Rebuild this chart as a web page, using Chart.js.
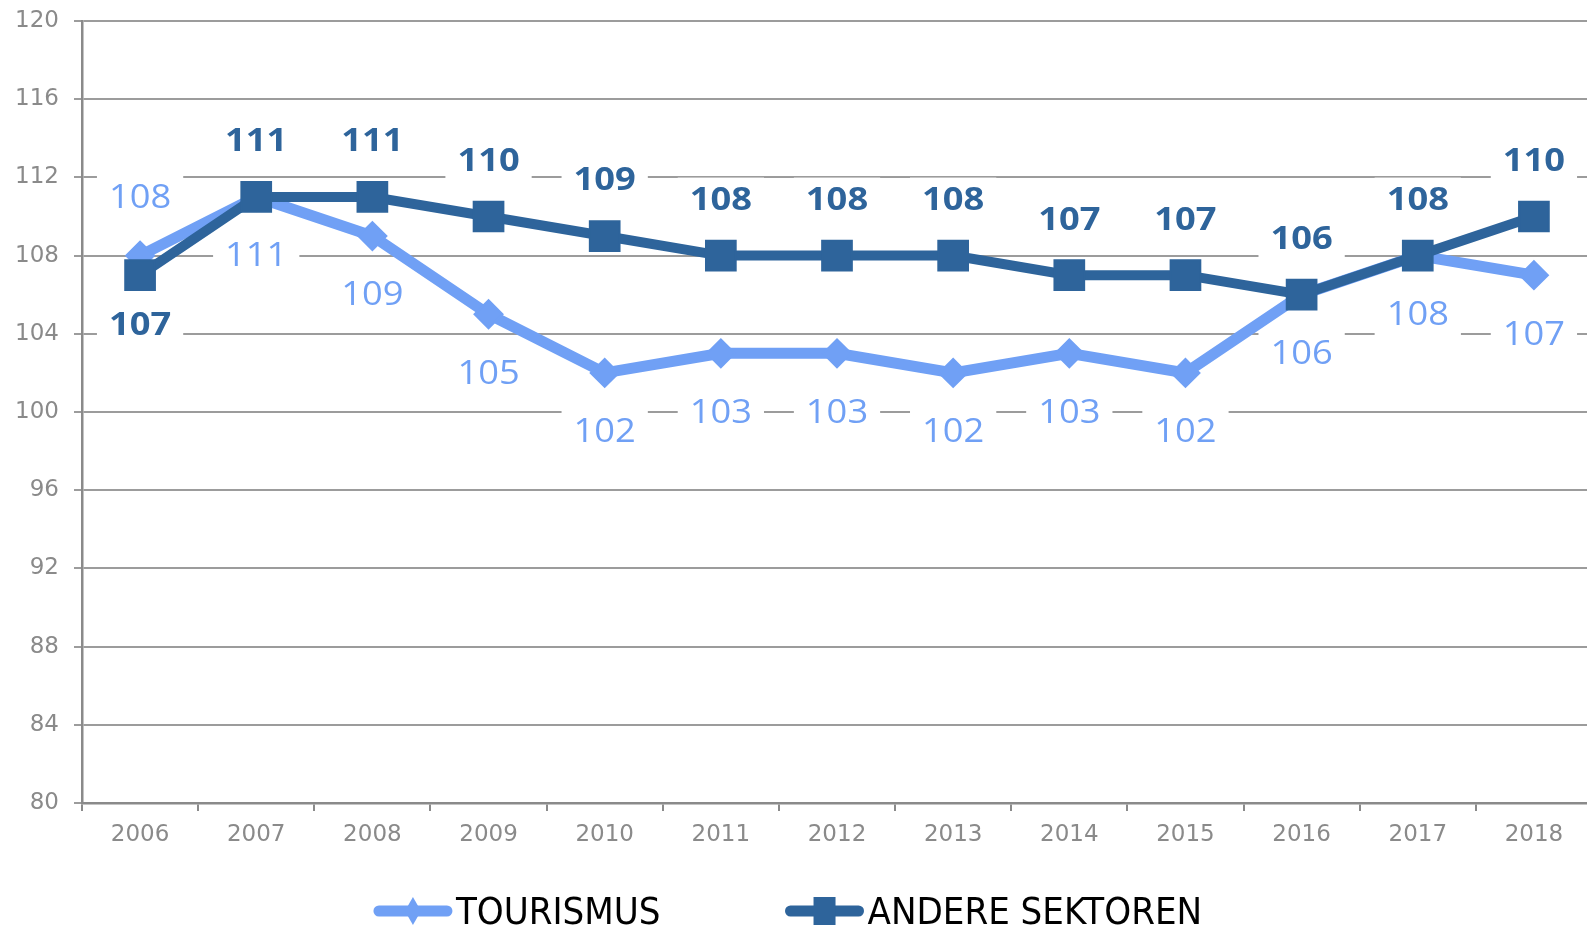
<!DOCTYPE html>
<html>
<head>
<meta charset="utf-8">
<title>Tourismus vs. andere Sektoren</title>
<script src="https://cdn.jsdelivr.net/npm/chart.js@4.4.1/dist/chart.umd.min.js"></script>
<style>
  html, body { margin: 0; padding: 0; background: #fff; }
  #wrap { width: 1587px; height: 928px; position: relative; }
</style>
</head>
<body>
<div id="wrap"><canvas id="chart"></canvas></div>
<script>
// data
const years = ['2006', '2007', '2008', '2009', '2010', '2011', '2012', '2013', '2014', '2015', '2016', '2017', '2018'];
const tourismus = [108, 111, 109, 105, 102, 103, 103, 102, 103, 102, 106, 108, 107];
const andereSektoren = [107, 111, 111, 110, 109, 108, 108, 108, 107, 107, 106, 108, 110];
const seriesNames = ['TOURISMUS', 'ANDERE SEKTOREN'];
const yMin = 80, yMax = 120, yStep = 4;

const lightBlue = '#70A0F5';
const darkBlue = '#2E649B';
const gridGray = '#9c9c9c';
const axisGray = '#8a8a8a';
const tickFont = { family: 'DejaVu Sans', size: 23 };

// the original plot is cut off a few px past the right edge
const cutOff = {
    id: 'cutOff',
    afterLayout(chart) {
        const x = chart.scales.x;
        const right = chart.width + 5;
        x.right = right;
        x.width = right - x.left;
        chart.chartArea.right = right;
        chart.chartArea.width = right - chart.chartArea.left;
        x.configure();
    }
};

// where each value label goes (white box behind it, like the original)
function labelSpots(chart) {
    const tMeta = chart.getDatasetMeta(0);
    const aMeta = chart.getDatasetMeta(1);
    let spots = [];
    years.forEach((y, i) => {
        const tp = tMeta.data[i], ap = aMeta.data[i];
        const tourAbove = tourismus[i] > andereSektoren[i];
        spots.push({ x: tp.x, y: tourAbove ? tp.y - 58 : tp.y + 59, text: String(tourismus[i]), color: lightBlue, bold: false });
        spots.push({ x: ap.x, y: tourAbove ? ap.y + 49 : ap.y - 56, text: String(andereSektoren[i]), color: darkBlue, bold: true });
    });
    return spots;
}

function labelFont(bold) {
    return (bold ? '700 ' : '500 ') + '33px "Open Sans"';
}
const stretch = 1.1; // original labels are a bit wide

const valueLabels = {
    id: 'valueLabels',
    beforeDatasetsDraw(chart) {
        const ctx = chart.ctx;
        ctx.save();
        // white boxes behind labels
        ctx.fillStyle = '#ffffff';
        labelSpots(chart).forEach(s => {
            ctx.font = labelFont(s.bold);
            const w = ctx.measureText(s.text).width * stretch;
            ctx.fillRect(s.x - w / 2 - 12, s.y - 22, w + 24, 44);
        });
        ctx.restore();
    },
    afterDatasetsDraw(chart) {
        const ctx = chart.ctx;
        labelSpots(chart).forEach(s => {
            ctx.save();
            ctx.translate(s.x, s.y + 1);
            ctx.scale(stretch, 1);
            ctx.textAlign = 'center';
            ctx.textBaseline = 'middle';
            ctx.font = labelFont(s.bold);
            ctx.fillStyle = s.color;
            ctx.fillText(s.text, 0, 0);
            ctx.restore();
        });
    }
};

// legend at the bottom: thick line with marker, then the name
const bottomLegend = {
    id: 'bottomLegend',
    afterDraw(chart) {
        const ctx = chart.ctx;
        ctx.save();
        ctx.font = '38px "Liberation Sans Narrow", "DejaVu Sans Condensed", sans-serif';
        const lineLen = 78, gapText = 4, gapItems = 125;
        const widths = seriesNames.map(n => lineLen + gapText + ctx.measureText(n).width);
        const total = widths[0] + gapItems + widths[1];
        let x = 788 - total / 2;
        const ly = 911;
        seriesNames.forEach((name, i) => {
            const col = i === 0 ? lightBlue : darkBlue;
            ctx.strokeStyle = col;
            ctx.lineWidth = 11;
            ctx.lineCap = 'round';
            ctx.beginPath();
            ctx.moveTo(x + 5, ly);
            ctx.lineTo(x + lineLen - 5, ly);
            ctx.stroke();
            ctx.fillStyle = col;
            const cx = x + lineLen / 2;
            if (i === 0) {
                ctx.beginPath();
                ctx.moveTo(cx - 8, ly);
                ctx.lineTo(cx, ly - 14);
                ctx.lineTo(cx + 8, ly);
                ctx.lineTo(cx, ly + 14);
                ctx.closePath();
                ctx.fill();
            } else {
                ctx.fillRect(cx - 11, ly - 14, 22, 28);
            }
            ctx.fillStyle = '#000000';
            ctx.textAlign = 'left';
            ctx.textBaseline = 'alphabetic';
            ctx.fillText(name, x + lineLen + gapText, 924);
            x += widths[i] + gapItems;
        });
        ctx.restore();
    }
};

const ctx = document.getElementById('chart');
new Chart(ctx, {
    type: 'line',
    data: {
        labels: years,
        datasets: [{
            label: seriesNames[0],
            data: tourismus,
            borderColor: lightBlue,
            backgroundColor: lightBlue,
            borderWidth: 11,
            pointStyle: 'rectRot',
            pointRadius: 14,
            pointBorderWidth: 2,
            pointBackgroundColor: lightBlue,
            pointBorderColor: lightBlue,
            tension: 0,
            order: 1
        }, {
            label: seriesNames[1],
            data: andereSektoren,
            borderColor: darkBlue,
            backgroundColor: darkBlue,
            borderWidth: 10,
            pointStyle: 'rect',
            pointRadius: 21,
            pointBorderWidth: 2,
            pointBackgroundColor: darkBlue,
            pointBorderColor: darkBlue,
            tension: 0,
            order: 0
        }]
    },
    options: {
        responsive: true,
        maintainAspectRatio: false,
        animation: false,
        devicePixelRatio: 1,
        layout: { autoPadding: false, padding: { top: 21, right: 0, left: 0, bottom: 0 } },
        plugins: {
            legend: { display: false },
            tooltip: { enabled: false }
        },
        scales: {
            x: {
                offset: true,
                grid: {
                    offset: true,
                    drawOnChartArea: false,
                    drawTicks: true,
                    tickLength: 8,
                    color: axisGray,
                    lineWidth: 2
                },
                border: { color: axisGray, width: 2.5 },
                ticks: { color: '#8a8a8a', font: tickFont, padding: 10, maxRotation: 0, autoSkip: false },
                afterFit(scale) {
                    scale.height = 125;
                    scale.paddingLeft = 0;
                    scale.paddingRight = 0;
                }
            },
            y: {
                min: yMin,
                max: yMax,
                grid: {
                    color: gridGray,
                    lineWidth: 2,
                    drawTicks: true,
                    tickLength: 8
                },
                border: { color: axisGray, width: 2.5 },
                ticks: { stepSize: yStep, color: '#8a8a8a', font: tickFont, padding: 15 },
                afterFit(scale) {
                    scale.width = 82;
                    scale.paddingTop = 0;
                    scale.paddingBottom = 0;
                }
            }
        }
    },
    plugins: [cutOff, valueLabels, bottomLegend]
});
</script>
</body>
</html>
